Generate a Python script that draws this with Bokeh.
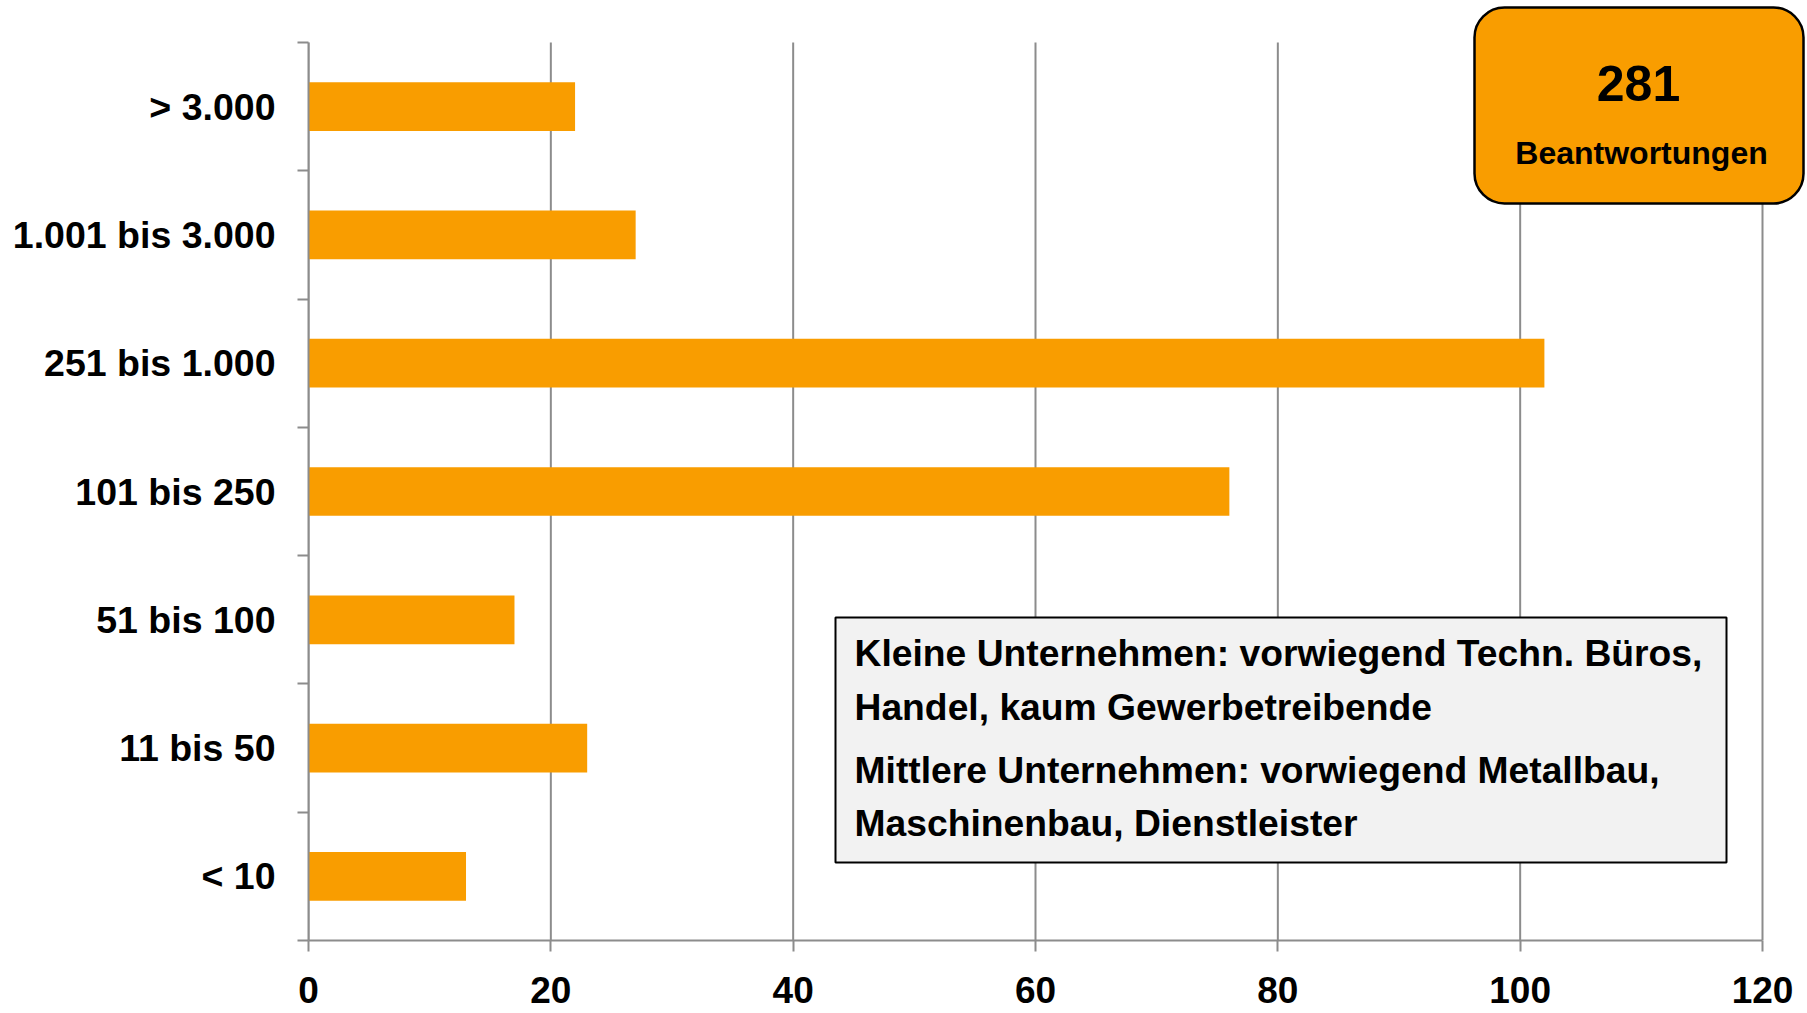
from bokeh.plotting import figure
from bokeh.models import Range1d, FixedTicker, BoxAnnotation, Label
from bokeh.embed import file_html
from bokeh.resources import INLINE

# ---- data ----
categories = ["< 10", "11 bis 50", "51 bis 100", "101 bis 250",
              "251 bis 1.000", "1.001 bis 3.000", "> 3.000"]
counts = [13, 23, 17, 76, 102, 27, 22]
x_ticks = [0, 20, 40, 60, 80, 100, 120]
total_number = "281"
total_label = "Beantwortungen"
note_lines = [
    "Kleine Unternehmen: vorwiegend Techn. Büros,",
    "Handel, kaum Gewerbetreibende",
    "Mittlere Unternehmen: vorwiegend Metallbau,",
    "Maschinenbau, Dienstleister",
]

# ---- style / layout ----
ORANGE = "#F99D00"
GRAY = "#8C8C8C"
FONT = "Liberation Sans"
W, H = 1807, 1013
LEFT, BOTTOM = 308, 940          # pixel position of x=0 / y=0
X120_PX, Y7_PX = 1762, 42        # pixel position of x=120 / y=7

n = len(categories)
x_max = x_ticks[-1]
px_per_x = (X120_PX - LEFT) / x_max
px_per_y = (BOTTOM - Y7_PX) / n
x_end = (W - LEFT) / px_per_x
y_end = BOTTOM / px_per_y

centers = [i + 0.5 for i in range(n)]
bounds = list(range(n + 1))

p = figure(width=W, height=H, output_backend="svg", toolbar_location=None,
           x_range=Range1d(0, x_end), y_range=Range1d(0, y_end),
           min_border_left=LEFT, min_border_right=0,
           min_border_top=0, min_border_bottom=H - BOTTOM)
p.outline_line_color = None
p.background_fill_color = "white"
p.xgrid.grid_line_color = None
p.ygrid.grid_line_color = None

# vertical grid lines (only over the category area)
p.segment(x0=x_ticks, y0=[0] * len(x_ticks), x1=x_ticks, y1=[n] * len(x_ticks),
          line_color=GRAY, line_width=2)

p.hbar(y=centers, right=counts, left=0, height=0.38, fill_color=ORANGE, line_color=None)

# x axis
xa = p.xaxis[0]
xa.bounds = (0, x_max)
xa.ticker = FixedTicker(ticks=x_ticks, minor_ticks=[])
xa.axis_line_color = GRAY
xa.axis_line_width = 2
xa.major_tick_line_color = GRAY
xa.major_tick_line_width = 2
xa.major_tick_out = 11
xa.major_tick_in = 0
xa.minor_tick_line_color = None
xa.major_label_text_font = FONT
xa.major_label_text_font_style = "bold"
xa.major_label_text_font_size = "37px"
xa.major_label_text_color = "black"
xa.major_label_standoff = 25

# y axis
ya = p.yaxis[0]
ya.bounds = (0, n)
ya.ticker = FixedTicker(ticks=centers, minor_ticks=bounds)
ya.major_label_overrides = {c: lab for c, lab in zip(centers, categories)}
ya.axis_line_color = GRAY
ya.axis_line_width = 2
ya.major_tick_line_color = None
ya.minor_tick_line_color = GRAY
ya.minor_tick_line_width = 2
ya.minor_tick_out = 11
ya.minor_tick_in = 0
ya.major_label_text_font = FONT
ya.major_label_text_font_style = "bold"
ya.major_label_text_font_size = "37.5px"
ya.major_label_text_color = "black"
ya.major_label_standoff = 22


def canvas_label(x, baseline, text, size, align):
    # Bokeh places the alphabetic baseline ~0.37em below y; compensate
    return Label(x=x, y=baseline - 0.37 * size, x_units="canvas", y_units="canvas",
                 text=text, text_font=FONT, text_font_style="bold",
                 text_font_size=f"{size}px", text_color="black",
                 text_baseline="alphabetic", text_align=align)


# note box
p.add_layout(BoxAnnotation(left=835, right=1726, top=617, bottom=862,
                           left_units="canvas", right_units="canvas",
                           top_units="canvas", bottom_units="canvas",
                           fill_color="#F2F2F2", fill_alpha=1.0,
                           line_color="black", line_width=2, line_alpha=1.0))
for txt, yb in zip(note_lines, [666.7, 720, 783.3, 836.7]):
    p.add_layout(canvas_label(854, yb, txt, 37.25, "left"))

# total box
p.add_layout(BoxAnnotation(left=1474, right=1803, top=7, bottom=203,
                           left_units="canvas", right_units="canvas",
                           top_units="canvas", bottom_units="canvas",
                           fill_color=ORANGE, fill_alpha=1.0, border_radius=30,
                           line_color="black", line_width=2.5, line_alpha=1.0))
p.add_layout(canvas_label(1638, 101.7, total_number, 50, "center"))
p.add_layout(canvas_label(1641, 164, total_label, 32, "center"))

open("out.html", "w").write(file_html(p, INLINE))
